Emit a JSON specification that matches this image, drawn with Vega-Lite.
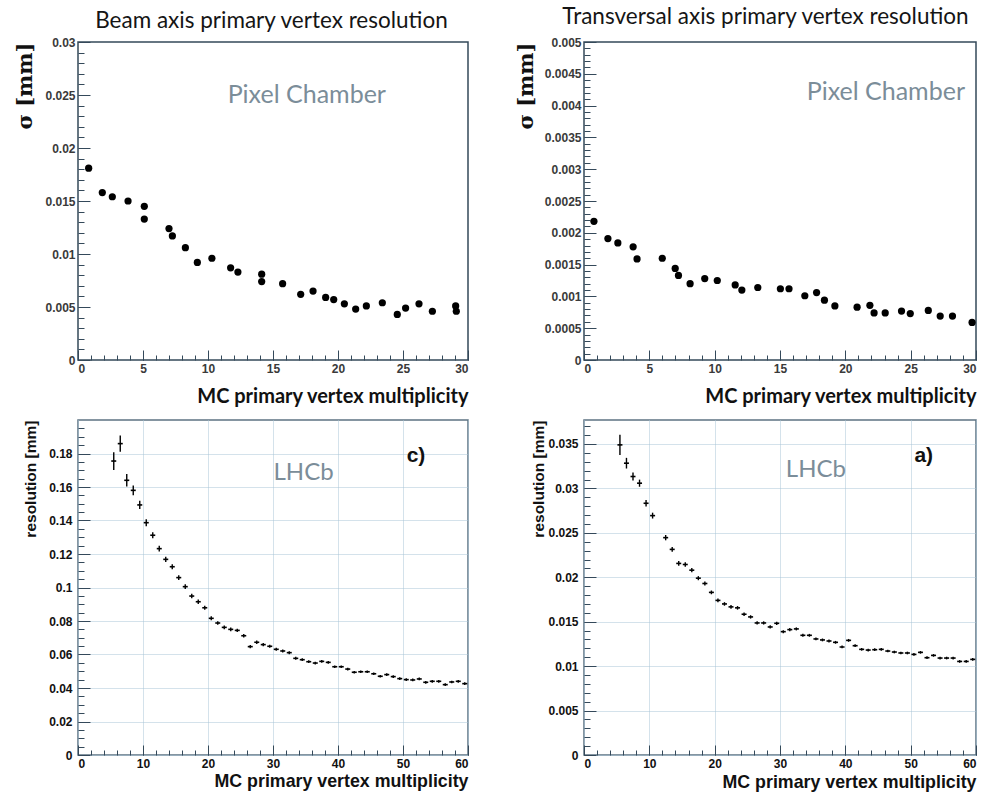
{
 "$schema": "https://vega.github.io/schema/vega-lite/v6.json",
 "background": "white",
 "padding": {"left": 13, "top": 4, "right": 2, "bottom": 0},
 "bounds": "flush",
 "columns": 2,
 "spacing": {"row": 60, "column": 116},
 "config": {
  "view": {"stroke": "#34495a", "strokeWidth": 1.5},
  "axis": {"domain": false, "grid": false, "tickColor": "#34495a", "tickWidth": 1, "labelFont": "Liberation Sans", "labelFontWeight": "bold", "labelFontSize": 12}
 },
 "datasets": {
  "tl": [
   {"x":0.82,"y":0.0181},{"x":1.87,"y":0.0158},{"x":2.64,"y":0.0154},{"x":3.85,"y":0.0150},{"x":5.1,"y":0.0145},{"x":5.1,"y":0.0133},{"x":7.0,"y":0.0124},{"x":7.26,"y":0.0117},{"x":8.26,"y":0.0106},{"x":9.18,"y":0.0092},{"x":10.3,"y":0.0096},{"x":11.74,"y":0.0087},{"x":12.3,"y":0.0083},{"x":14.13,"y":0.0081},{"x":14.13,"y":0.0074},{"x":15.74,"y":0.0072},{"x":17.13,"y":0.0062},{"x":18.08,"y":0.0065},{"x":19.05,"y":0.0059},{"x":19.67,"y":0.0057},{"x":20.49,"y":0.0053},{"x":21.36,"y":0.0048},{"x":22.18,"y":0.0051},{"x":23.41,"y":0.0054},{"x":24.56,"y":0.0043},{"x":25.2,"y":0.0049},{"x":26.23,"y":0.0053},{"x":27.26,"y":0.0046},{"x":29.05,"y":0.0051},{"x":29.1,"y":0.0046}
  ],
  "tr": [
   {"x":0.76,"y":0.00218},{"x":1.83,"y":0.00191},{"x":2.59,"y":0.00184},{"x":3.76,"y":0.00178},{"x":4.06,"y":0.00159},{"x":5.99,"y":0.0016},{"x":6.98,"y":0.00144},{"x":7.23,"y":0.00133},{"x":8.12,"y":0.0012},{"x":9.24,"y":0.00128},{"x":10.2,"y":0.00125},{"x":11.57,"y":0.00118},{"x":12.08,"y":0.0011},{"x":13.3,"y":0.00114},{"x":15.03,"y":0.00112},{"x":15.69,"y":0.00112},{"x":16.9,"y":0.00101},{"x":17.8,"y":0.00106},{"x":18.4,"y":0.00094},{"x":19.2,"y":0.00085},{"x":20.9,"y":0.00083},{"x":21.88,"y":0.00086},{"x":22.2,"y":0.00074},{"x":23.05,"y":0.00074},{"x":24.3,"y":0.00077},{"x":24.97,"y":0.00073},{"x":26.35,"y":0.00078},{"x":27.26,"y":0.00069},{"x":28.2,"y":0.00069},{"x":29.7,"y":0.00059}
  ],
  "bl": [
   {"x":5.5,"y":0.1755,"e":0.0053},{"x":6.5,"y":0.1859,"e":0.0049},{"x":7.5,"y":0.164,"e":0.0037},{"x":8.5,"y":0.158,"e":0.0029},{"x":9.5,"y":0.1493,"e":0.0025},{"x":10.5,"y":0.1387,"e":0.0021},{"x":11.5,"y":0.1312,"e":0.0018},{"x":12.5,"y":0.1232,"e":0.0017},{"x":13.5,"y":0.1168,"e":0.0016},{"x":14.5,"y":0.1124,"e":0.0015},{"x":15.5,"y":0.1059,"e":0.0014},{"x":16.5,"y":0.1005,"e":0.0014},{"x":17.5,"y":0.0949,"e":0.0013},{"x":18.5,"y":0.0915,"e":0.0013},{"x":19.5,"y":0.0879,"e":0.0012},{"x":20.5,"y":0.0816,"e":0.0012},{"x":21.5,"y":0.0788,"e":0.0011},{"x":22.5,"y":0.0762,"e":0.0011},{"x":23.5,"y":0.075,"e":0.0011},{"x":24.5,"y":0.0744,"e":0.001},{"x":25.5,"y":0.0712,"e":0.001},{"x":26.5,"y":0.0647,"e":0.001},{"x":27.5,"y":0.0673,"e":0.001},{"x":28.5,"y":0.0659,"e":0.0009},{"x":29.5,"y":0.0649,"e":0.0009},{"x":30.5,"y":0.0631,"e":0.0009},{"x":31.5,"y":0.0621,"e":0.0009},{"x":32.5,"y":0.0611,"e":0.0009},{"x":33.5,"y":0.0577,"e":0.0009},{"x":34.5,"y":0.0569,"e":0.0008},{"x":35.5,"y":0.0557,"e":0.0008},{"x":36.5,"y":0.0549,"e":0.0008},{"x":37.5,"y":0.0559,"e":0.0008},{"x":38.5,"y":0.0553,"e":0.0008},{"x":39.5,"y":0.0527,"e":0.0008},{"x":40.5,"y":0.0527,"e":0.0008},{"x":41.5,"y":0.0513,"e":0.0008},{"x":42.5,"y":0.0494,"e":0.0008},{"x":43.5,"y":0.0497,"e":0.0008},{"x":44.5,"y":0.0497,"e":0.0008},{"x":45.5,"y":0.0485,"e":0.0008},{"x":46.5,"y":0.047,"e":0.0008},{"x":47.5,"y":0.048,"e":0.0008},{"x":48.5,"y":0.0468,"e":0.0008},{"x":49.5,"y":0.0456,"e":0.0008},{"x":50.5,"y":0.045,"e":0.0008},{"x":51.5,"y":0.0448,"e":0.0008},{"x":52.5,"y":0.0454,"e":0.0008},{"x":53.5,"y":0.0434,"e":0.0008},{"x":54.5,"y":0.044,"e":0.0008},{"x":55.5,"y":0.044,"e":0.0008},{"x":56.5,"y":0.042,"e":0.0008},{"x":57.5,"y":0.0436,"e":0.0008},{"x":58.5,"y":0.044,"e":0.0008},{"x":59.5,"y":0.0426,"e":0.0008}
  ],
  "br": [
   {"x":5.5,"y":0.0349,"e":0.00113},{"x":6.5,"y":0.03284,"e":0.0006},{"x":7.5,"y":0.03134,"e":0.00045},{"x":8.5,"y":0.03059,"e":0.0004},{"x":9.5,"y":0.02833,"e":0.00037},{"x":10.5,"y":0.02694,"e":0.00033},{"x":12.5,"y":0.02446,"e":0.0003},{"x":13.5,"y":0.02314,"e":0.00028},{"x":14.5,"y":0.02156,"e":0.00026},{"x":15.5,"y":0.02144,"e":0.00025},{"x":16.5,"y":0.0208,"e":0.00024},{"x":17.5,"y":0.0199,"e":0.00023},{"x":18.5,"y":0.0193,"e":0.00022},{"x":19.5,"y":0.0183,"e":0.00021},{"x":20.5,"y":0.0174,"e":0.0002},{"x":21.5,"y":0.017,"e":0.0002},{"x":22.5,"y":0.01667,"e":0.0002},{"x":23.5,"y":0.01656,"e":0.0002},{"x":24.5,"y":0.01584,"e":0.00019},{"x":25.5,"y":0.01554,"e":0.00019},{"x":26.5,"y":0.01486,"e":0.00018},{"x":27.5,"y":0.01486,"e":0.00018},{"x":28.5,"y":0.01441,"e":0.00018},{"x":29.5,"y":0.01482,"e":0.00018},{"x":30.5,"y":0.01388,"e":0.00017},{"x":31.5,"y":0.01411,"e":0.00017},{"x":32.5,"y":0.01419,"e":0.00017},{"x":33.5,"y":0.01347,"e":0.00017},{"x":34.5,"y":0.01347,"e":0.00016},{"x":35.5,"y":0.01306,"e":0.00016},{"x":36.5,"y":0.01295,"e":0.00016},{"x":37.5,"y":0.01283,"e":0.00016},{"x":38.5,"y":0.01268,"e":0.00016},{"x":39.5,"y":0.01216,"e":0.00016},{"x":40.5,"y":0.0129,"e":0.00016},{"x":41.5,"y":0.0123,"e":0.00015},{"x":42.5,"y":0.01189,"e":0.00015},{"x":43.5,"y":0.01181,"e":0.00015},{"x":44.5,"y":0.01185,"e":0.00015},{"x":45.5,"y":0.01189,"e":0.00015},{"x":46.5,"y":0.0117,"e":0.00015},{"x":47.5,"y":0.01159,"e":0.00015},{"x":48.5,"y":0.01148,"e":0.00015},{"x":49.5,"y":0.01148,"e":0.00015},{"x":50.5,"y":0.01132,"e":0.00015},{"x":51.5,"y":0.01155,"e":0.00015},{"x":52.5,"y":0.01095,"e":0.00015},{"x":53.5,"y":0.01121,"e":0.00015},{"x":54.5,"y":0.01091,"e":0.00015},{"x":55.5,"y":0.01091,"e":0.00015},{"x":56.5,"y":0.01091,"e":0.00015},{"x":57.5,"y":0.01053,"e":0.00015},{"x":58.5,"y":0.01053,"e":0.00015},{"x":59.5,"y":0.01076,"e":0.00015}
  ]
 },
 "concat": [
  {
   "width": 390, "height": 318,
   "title": {"text": "Beam axis primary vertex resolution", "font": "Lato", "fontSize": 22.5, "fontWeight": "normal", "color": "#151515", "frame": "group", "anchor": "middle", "dx": -1.5, "offset": -19, "baseline": "bottom"},
   "data": {"name": "tl"},
   "layer": [
    {"mark": {"type": "point", "filled": true, "color": "black", "size": 52, "opacity": 1},
     "encoding": {
      "x": {"field": "x", "type": "quantitative", "scale": {"domain": [0, 30], "nice": false},
            "axis": {"orient": "bottom", "values": [0,5,10,15,20,25,30], "tickSize": -10, "labelPadding": 13, "labelColor": "#3a3a3a", "labelExpr": "format(datum.value, '~g')",
                     "title": "MC primary vertex multiplicity", "titleAnchor": "end", "titleFont": "Lato", "titleFontSize": 20, "titleFontWeight": "bold", "titleColor": "#111111", "titleY": 42, "titleBaseline": "alphabetic"}},
      "y": {"field": "y", "type": "quantitative", "scale": {"domain": [0, 0.03], "nice": false},
            "axis": {"orient": "left", "values": [0,0.005,0.01,0.015,0.02,0.025,0.03], "tickSize": -12, "labelPadding": 15, "labelColor": "#3a3a3a", "labelExpr": "format(datum.value, '~g')",
                     "title": "σ [mm]", "titleAnchor": "end", "titleFont": "DejaVu Serif", "titleFontSize": 21, "titleFontWeight": "bold", "titleColor": "#111111", "titleX": -43, "titleBaseline": "bottom"}}
     }},
    {"mark": {"type": "point", "opacity": 0},
     "encoding": {
      "x": {"field": "x", "type": "quantitative", "axis": {"orient": "bottom", "values": [0,1,2,3,4,5,6,7,8,9,10,11,12,13,14,15,16,17,18,19,20,21,22,23,24,25,26,27,28,29,30], "tickSize": -5, "labels": false, "title": null, "grid": false}},
      "y": {"field": "y", "type": "quantitative", "axis": {"orient": "left", "values": [0,0.001,0.002,0.003,0.004,0.005,0.006,0.007,0.008,0.009,0.01,0.011,0.012,0.013,0.014,0.015,0.016,0.017,0.018,0.019,0.02,0.021,0.022,0.023,0.024,0.025,0.026,0.027,0.028,0.029,0.03], "tickSize": -6, "labels": false, "title": null, "grid": false}}
     }},
    {"data": {"values": [{"x": 17.6, "y": 0.025, "t": "Pixel Chamber"}]},
     "mark": {"type": "text", "font": "Lato", "fontSize": 25, "color": "#7b8d99", "align": "center", "baseline": "middle"},
     "encoding": {"x": {"field": "x", "type": "quantitative", "axis": null}, "y": {"field": "y", "type": "quantitative", "axis": null}, "text": {"field": "t"}}}
   ],
   "resolve": {"axis": {"x": "independent", "y": "independent"}}
  },
  {
   "width": 392, "height": 318,
   "title": {"text": "Transversal axis primary vertex resolution", "font": "Lato", "fontSize": 22.5, "fontWeight": "normal", "color": "#151515", "frame": "group", "anchor": "middle", "dx": -14.5, "offset": -15, "baseline": "bottom"},
   "data": {"name": "tr"},
   "layer": [
    {"mark": {"type": "point", "filled": true, "color": "black", "size": 52, "opacity": 1},
     "encoding": {
      "x": {"field": "x", "type": "quantitative", "scale": {"domain": [0, 30], "nice": false},
            "axis": {"orient": "bottom", "values": [0,5,10,15,20,25,30], "tickSize": -10, "labelPadding": 13, "labelColor": "#3a3a3a", "labelExpr": "format(datum.value, '~g')",
                     "title": "MC primary vertex multiplicity", "titleAnchor": "end", "titleFont": "Lato", "titleFontSize": 20, "titleFontWeight": "bold", "titleColor": "#111111", "titleY": 42, "titleBaseline": "alphabetic"}},
      "y": {"field": "y", "type": "quantitative", "scale": {"domain": [0, 0.005], "nice": false},
            "axis": {"orient": "left", "values": [0,0.0005,0.001,0.0015,0.002,0.0025,0.003,0.0035,0.004,0.0045,0.005], "tickSize": -12, "labelPadding": 15, "labelColor": "#3a3a3a", "labelExpr": "format(datum.value, '~g')",
                     "title": "σ [mm]", "titleAnchor": "end", "titleFont": "DejaVu Serif", "titleFontSize": 21, "titleFontWeight": "bold", "titleColor": "#111111", "titleX": -48, "titleBaseline": "bottom"}}
     }},
    {"mark": {"type": "point", "opacity": 0},
     "encoding": {
      "x": {"field": "x", "type": "quantitative", "axis": {"orient": "bottom", "values": [0,1,2,3,4,5,6,7,8,9,10,11,12,13,14,15,16,17,18,19,20,21,22,23,24,25,26,27,28,29,30], "tickSize": -5, "labels": false, "title": null, "grid": false}},
      "y": {"field": "y", "type": "quantitative", "axis": {"orient": "left", "values": [0,0.0001,0.0002,0.0003,0.0004,0.0005,0.0006,0.0007,0.0008,0.0009,0.001,0.0011,0.0012,0.0013,0.0014,0.0015,0.0016,0.0017,0.0018,0.0019,0.002,0.0021,0.0022,0.0023,0.0024,0.0025,0.0026,0.0027,0.0028,0.0029,0.003,0.0031,0.0032,0.0033,0.0034,0.0035,0.0036,0.0037,0.0038,0.0039,0.004,0.0041,0.0042,0.0043,0.0044,0.0045,0.0046,0.0047,0.0048,0.0049,0.005], "tickSize": -6, "labels": false, "title": null, "grid": false}}
     }},
    {"data": {"values": [{"x": 23.1, "y": 0.00421, "t": "Pixel Chamber"}]},
     "mark": {"type": "text", "font": "Lato", "fontSize": 25, "color": "#7b8d99", "align": "center", "baseline": "middle"},
     "encoding": {"x": {"field": "x", "type": "quantitative", "axis": null}, "y": {"field": "y", "type": "quantitative", "axis": null}, "text": {"field": "t"}}}
   ],
   "resolve": {"axis": {"x": "independent", "y": "independent"}}
  },
  {
   "width": 390, "height": 335,
   "data": {"name": "bl"},
   "view": {"stroke": "#5d7383"},
   "layer": [
    {"mark": {"type": "errorbar", "color": "black", "thickness": 1.4, "ticks": false},
     "encoding": {
      "x": {"field": "x", "type": "quantitative", "scale": {"domain": [0, 60], "nice": false},
            "axis": {"orient": "bottom", "values": [0,10,20,30,40,50,60], "tickSize": -10, "labelPadding": 13, "labelColor": "#111111", "labelExpr": "format(datum.value, '~g')",
                     "grid": true, "gridColor": "#a9c4d6", "gridDash": [1, 1], "gridWidth": 1,
                     "title": "MC primary vertex multiplicity", "titleAnchor": "end", "titleFont": "Liberation Sans", "titleFontSize": 17.8, "titleFontWeight": "bold", "titleColor": "#111111", "titleY": 31, "titleBaseline": "alphabetic"}},
      "y": {"field": "y", "type": "quantitative", "scale": {"domain": [0, 0.2], "nice": false},
            "axis": {"orient": "left", "values": [0,0.02,0.04,0.06,0.08,0.1,0.12,0.14,0.16,0.18], "tickSize": -12, "labelPadding": 18, "labelColor": "#111111", "labelExpr": "format(datum.value, '~g')",
                     "grid": true, "gridColor": "#a9c4d6", "gridDash": [1, 1], "gridWidth": 1,
                     "title": "resolution [mm]", "titleAnchor": "end", "titleFont": "Liberation Sans", "titleFontSize": 15.5, "titleFontWeight": "bold", "titleColor": "#111111", "titleX": -40, "titleBaseline": "bottom"}},
      "yError": {"field": "e"}
     }},
    {"mark": {"type": "tick", "orient": "horizontal", "size": 5, "thickness": 1.6, "color": "black", "opacity": 1},
     "encoding": {
      "x": {"field": "x", "type": "quantitative", "axis": {"orient": "bottom", "values": [0,2,4,6,8,10,12,14,16,18,20,22,24,26,28,30,32,34,36,38,40,42,44,46,48,50,52,54,56,58,60], "tickSize": -5, "labels": false, "title": null, "grid": false}},
      "y": {"field": "y", "type": "quantitative", "axis": {"orient": "left", "values": [0,0.005,0.01,0.015,0.02,0.025,0.03,0.035,0.04,0.045,0.05,0.055,0.06,0.065,0.07,0.075,0.08,0.085,0.09,0.095,0.1,0.105,0.11,0.115,0.12,0.125,0.13,0.135,0.14,0.145,0.15,0.155,0.16,0.165,0.17,0.175,0.18,0.185,0.19,0.195], "tickSize": -6, "labels": false, "title": null, "grid": false}}
     }},
    {"data": {"values": [{"x": 34.7, "y": 0.1684, "t": "LHCb"}]},
     "mark": {"type": "text", "font": "Lato", "fontSize": 24, "color": "#7b8d99", "align": "center", "baseline": "middle"},
     "encoding": {"x": {"field": "x", "type": "quantitative", "axis": null}, "y": {"field": "y", "type": "quantitative", "axis": null}, "text": {"field": "t"}}},
    {"data": {"values": [{"x": 52.0, "y": 0.1785, "t": "c)"}]},
     "mark": {"type": "text", "font": "Liberation Sans", "fontSize": 21, "fontWeight": "bold", "color": "#111111", "align": "center", "baseline": "middle"},
     "encoding": {"x": {"field": "x", "type": "quantitative", "axis": null}, "y": {"field": "y", "type": "quantitative", "axis": null}, "text": {"field": "t"}}}
   ],
   "resolve": {"axis": {"x": "independent", "y": "independent"}}
  },
  {
   "width": 392, "height": 335,
   "data": {"name": "br"},
   "view": {"stroke": "#5d7383"},
   "layer": [
    {"mark": {"type": "errorbar", "color": "black", "thickness": 1.4, "ticks": false},
     "encoding": {
      "x": {"field": "x", "type": "quantitative", "scale": {"domain": [0, 60], "nice": false},
            "axis": {"orient": "bottom", "values": [0,10,20,30,40,50,60], "tickSize": -10, "labelPadding": 13, "labelColor": "#111111", "labelExpr": "format(datum.value, '~g')",
                     "grid": true, "gridColor": "#a9c4d6", "gridDash": [1, 1], "gridWidth": 1,
                     "title": "MC primary vertex multiplicity", "titleAnchor": "end", "titleFont": "Liberation Sans", "titleFontSize": 17.8, "titleFontWeight": "bold", "titleColor": "#111111", "titleY": 32, "titleBaseline": "alphabetic"}},
      "y": {"field": "y", "type": "quantitative", "scale": {"domain": [0, 0.0377], "nice": false},
            "axis": {"orient": "left", "values": [0,0.005,0.01,0.015,0.02,0.025,0.03,0.035], "tickSize": -12, "labelPadding": 18, "labelColor": "#111111", "labelExpr": "format(datum.value, '~g')",
                     "grid": true, "gridColor": "#a9c4d6", "gridDash": [1, 1], "gridWidth": 1,
                     "title": "resolution [mm]", "titleAnchor": "end", "titleFont": "Liberation Sans", "titleFontSize": 15.5, "titleFontWeight": "bold", "titleColor": "#111111", "titleX": -38, "titleBaseline": "bottom"}},
      "yError": {"field": "e"}
     }},
    {"mark": {"type": "tick", "orient": "horizontal", "size": 5, "thickness": 1.6, "color": "black", "opacity": 1},
     "encoding": {
      "x": {"field": "x", "type": "quantitative", "axis": {"orient": "bottom", "values": [0,2,4,6,8,10,12,14,16,18,20,22,24,26,28,30,32,34,36,38,40,42,44,46,48,50,52,54,56,58,60], "tickSize": -5, "labels": false, "title": null, "grid": false}},
      "y": {"field": "y", "type": "quantitative", "axis": {"orient": "left", "values": [0,0.001,0.002,0.003,0.004,0.005,0.006,0.007,0.008,0.009,0.01,0.011,0.012,0.013,0.014,0.015,0.016,0.017,0.018,0.019,0.02,0.021,0.022,0.023,0.024,0.025,0.026,0.027,0.028,0.029,0.03,0.031,0.032,0.033,0.034,0.035,0.036,0.037], "tickSize": -6, "labels": false, "title": null, "grid": false}}
     }},
    {"data": {"values": [{"x": 35.5, "y": 0.0321, "t": "LHCb"}]},
     "mark": {"type": "text", "font": "Lato", "fontSize": 24, "color": "#7b8d99", "align": "center", "baseline": "middle"},
     "encoding": {"x": {"field": "x", "type": "quantitative", "axis": null}, "y": {"field": "y", "type": "quantitative", "axis": null}, "text": {"field": "t"}}},
    {"data": {"values": [{"x": 52.0, "y": 0.0336, "t": "a)"}]},
     "mark": {"type": "text", "font": "Liberation Sans", "fontSize": 21, "fontWeight": "bold", "color": "#111111", "align": "center", "baseline": "middle"},
     "encoding": {"x": {"field": "x", "type": "quantitative", "axis": null}, "y": {"field": "y", "type": "quantitative", "axis": null}, "text": {"field": "t"}}}
   ],
   "resolve": {"axis": {"x": "independent", "y": "independent"}}
  }
 ]
}
